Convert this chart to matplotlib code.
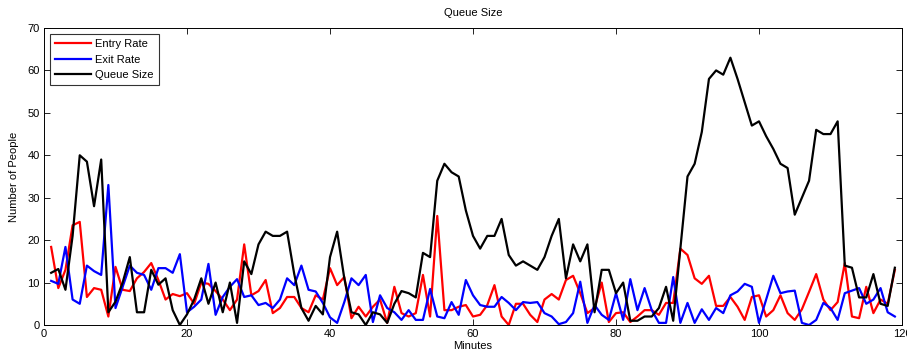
import numpy as np
import matplotlib
matplotlib.use('Agg')
import matplotlib.pyplot as plt

plt.rcParams['font.family'] = ['Liberation Sans', 'DejaVu Sans']

# minutes 1..119
minutes = np.arange(1, 120)

entryRate = [18.4, 8.7, 13, 23.5, 24.3, 6.6, 8.7, 8.3, 2, 13.7,
             8.3, 8, 11, 12.5, 14.6, 10.6, 6, 7.3, 6.8, 7.5,
             5, 10, 9.7, 8, 6, 3.5, 6, 19, 7, 8,
             10.6, 2.8, 4, 6.6, 6.6, 4, 3, 7, 6, 13.4,
             9.4, 11.3, 1.6, 4.3, 2, 4.3, 6, 0.5, 9, 2.8,
             2, 2.8, 11.8, 2, 25.7, 3.5, 3.5, 4.3, 4.7, 2,
             2.4, 4.7, 9.4, 2, 0, 5, 5, 2.4, 0.7, 6,
             7.3, 6, 10.6, 11.6, 7.5, 2.8, 4, 10, 0.7, 2.8,
             3, 0.7, 2, 3.5, 3.5, 2.4, 5.2, 5.2, 18, 16.5,
             11, 9.7, 11.6, 4.5, 4.5, 6.6, 4.3, 1.2, 6.6, 7,
             2, 3.5, 7, 2.8, 1.2, 3.7, 7.8, 12, 6, 3.5,
             5.4, 14.6, 2, 1.6, 9, 2.8, 6, 5, 13]

exitRate = [10.4, 9.7, 18.4, 6, 5, 14, 12.7, 11.8, 33, 4,
            9, 14, 12.3, 11.8, 8.3, 13.4, 13.4, 12.3, 16.7, 3,
            4.3, 6, 14.4, 2.4, 6.6, 9, 10.8, 6.6, 7, 4.7,
            5.2, 4, 6, 11, 9.4, 14, 8.3, 7.9, 5.2, 1.8,
            0.5, 5.4, 11, 9.4, 11.8, 0.7, 7, 4, 3, 1.2,
            3.5, 1.2, 1.2, 8.5, 2, 1.6, 5.4, 2.4, 10.6, 7,
            4.7, 4.3, 4.3, 6.6, 5.2, 3.5, 5.4, 5.2, 5.4, 2.8,
            2, 0.2, 0.7, 2.8, 10.2, 0.5, 4.7, 2.4, 1.2, 7.5,
            1.2, 10.8, 3.5, 8.7, 3.5, 0.5, 0.5, 11.3, 0.5, 5.2,
            0.5, 3.7, 1.2, 4, 2.8, 7, 7.9, 9.7, 9, 0.5,
            6, 11.6, 7.5, 7.9, 8.1, 0.5, 0, 1.2, 5.2, 4,
            1.2, 7.5, 8.1, 8.7, 5, 6, 8.7, 3, 2]

queueSize = [12.3, 13.2, 8.3, 21, 40, 38.5, 28, 39, 3, 5.5,
             10, 16, 3, 3, 13, 9.5, 11, 3.5, 0, 2.5,
             6, 11, 5, 10, 3, 10, 0.5, 15, 12, 19,
             22, 21, 21, 22, 12, 4, 1, 4.5, 2.5, 16,
             22, 11, 3, 2.5, 0, 3, 2.5, 0.5, 5, 8,
             7.5, 6.5, 17, 16, 34, 38, 36, 35, 27, 21,
             18, 21, 21, 25, 16.5, 14, 15, 14, 13, 16,
             21, 25, 11, 19, 15, 19, 3, 13, 13, 7.5,
             10, 1, 1, 2, 2, 4, 9, 1, 18, 35,
             38, 45.5, 58, 60, 59, 63, 58, 52.5, 47, 48,
             44.5, 41.5, 38, 37, 26, 30, 34, 46, 45, 45,
             48, 14, 13.5, 6.5, 6.5, 12, 5, 4.5, 13.5]

fig = plt.figure(figsize=[9.07, 3.55], dpi=100)
ax = fig.add_axes([44/907., 30/355., 858/907., 297/355.])

ax.plot(minutes, entryRate, color='#ff0000', lw=1.6, label='Entry Rate')
ax.plot(minutes, exitRate, color='#0000ff', lw=1.6, label='Exit Rate')
ax.plot(minutes, queueSize, color='#000000', lw=1.6, label='Queue Size')

ax.set_xlim(0, 120)
ax.set_ylim(0, 70)
ax.set_xticks(np.arange(0, 121, 20))
ax.set_yticks(np.arange(0, 71, 10))
ax.tick_params(direction='in', top=True, right=True, labelsize=8, length=4, width=0.6, pad=3)
for s in ax.spines.values():
    s.set_linewidth(0.7)

ax.set_title('Queue Size', fontsize=8, pad=9)
ax.set_xlabel('Minutes', fontsize=8, labelpad=1)
ax.set_ylabel('Number of People', fontsize=8, labelpad=6)

leg = ax.legend(loc='upper left', fontsize=8, frameon=True, fancybox=False,
                edgecolor='black', handlelength=3.2, borderpad=0.45,
                labelspacing=0.5, handletextpad=0.4, borderaxespad=0.55)
leg.get_frame().set_linewidth(0.8)

plt.savefig('out.png', dpi=100)
